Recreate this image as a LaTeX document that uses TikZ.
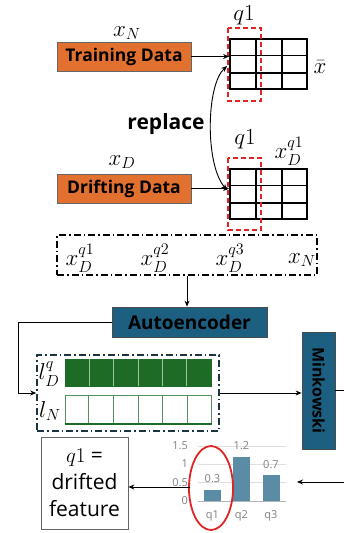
\RequirePackage{fix-cm}
\documentclass[tikz,border=0pt]{standalone}
\usepackage{fontspec}
\setmainfont{Open Sans}
\usepackage{amsmath}
\usetikzlibrary{arrows.meta,positioning,calc}
\definecolor{dataorange}{HTML}{E2702F}
\definecolor{aeblue}{HTML}{1C5F80}
\definecolor{latgreen}{HTML}{1E6B25}
\definecolor{latlight}{HTML}{9CC59C}
\definecolor{latdark}{HTML}{1C3440}
\definecolor{barblue}{HTML}{5A8CA6}
\definecolor{selred}{HTML}{E02424}

\begin{document}
\begin{tikzpicture}[x=1pt, y=-1pt, >={Stealth[length=6pt,width=5pt]},
  databox/.style={draw=black!60, line width=0.8pt, fill=dataorange, minimum width=134pt,
                  minimum height=29pt, inner sep=0pt, font=\bfseries\fontsize{17.5}{19}\selectfont},
  bluebox/.style={draw=black!70, line width=0.8pt, fill=aeblue, inner sep=0pt,
                  font=\bfseries\fontsize{19}{21}\selectfont},
  tablebox/.style={draw, line width=1.8pt, minimum width=77pt, minimum height=50pt, inner sep=0pt},
  selbox/.style={draw=selred, line width=1.8pt, dash pattern=on 5pt off 3pt},
  groupbox/.style={draw, line width=1.6pt, dash pattern=on 7pt off 3pt on 1.5pt off 3pt, inner sep=0pt},
  mlabel/.style={font=\fontsize{23}{27}\selectfont, inner sep=0pt},
  conn/.style={->, line width=0.9pt},
  axlabel/.style={text=gray, font=\fontsize{11}{12}\selectfont, inner sep=0pt}]
  \useasboundingbox (0,0) rectangle (344,533);

  % Input data
  \node[databox] (train) at (124,56.5) {Training Data};
  \node[mlabel]  (xN)    at (127,33)   {$x_N$};
  \node[databox] (drift) at (124,188.5) {Drifting Data};
  \node[mlabel]  (xD)    at (122,162)  {$x_D$};

  % Feature tables
  \node[tablebox] (tabN) at (268.5,64)  {};
  \node[tablebox] (tabD) at (268.5,194) {};
  \foreach \t in {tabN,tabD}
    \foreach \f in {0.337,0.67} {
      \draw[line width=1.8pt] ($(\t.north west)!\f!(\t.north east)$) -- ($(\t.south west)!\f!(\t.south east)$);
      \draw[line width=1.8pt] ($(\t.north west)!\f!(\t.south west)$) -- ($(\t.north east)!\f!(\t.south east)$);
    }
  \draw[selbox] (228,28)  rectangle (261,101);
  \draw[selbox] (228,158) rectangle (261,230);
  \node[mlabel] (qN)   at (244,15)  {$q1$};
  \node[mlabel] (qD)   at (245,139) {$q1$};
  \node[mlabel] (xbar) at (320,67)  {$\bar{x}$};
  \node[mlabel] (xDq)  at (289,151) {$x_D^{q1}$};

  \draw[conn] (train.east) -- (train.east -| tabN.west);
  \draw[conn] (drift.east) -- (drift.east -| tabD.west);
  \draw[<->, line width=0.9pt] ($(tabN.west)+(-2,2)$) .. controls (206,85) and (205,165) .. ($(tabD.west)+(-2,-4)$);
  \node[font=\bfseries\fontsize{21}{24}\selectfont] (rep) at (166,124) {replace};

  % Mixed samples
  \node[groupbox, minimum width=260pt, minimum height=40pt] (grp) at (187,255) {};
  \node[mlabel] (s1) at (80,258)  {$x_D^{q1}$};
  \node[mlabel] (s2) at (155,258) {$x_D^{q2}$};
  \node[mlabel] (s3) at (230,258) {$x_D^{q3}$};
  \node[mlabel] (s4) at (302,260) {$x_N$};

  \node[bluebox, minimum width=155pt, minimum height=30pt] (ae) at (189.5,322) {Autoencoder};
  \draw[conn] (grp.south) -- (grp.south |- ae.north);

  % Latent vectors
  \node[groupbox, draw=latdark, minimum width=182pt, minimum height=76pt] (lat) at (128,393) {};
  \node[fill=latgreen, draw=latgreen, minimum width=146pt, minimum height=27pt, inner sep=0pt] (rowD) at (138,372.5) {};
  \node[draw=latgreen!75, line width=1pt, minimum width=146pt, minimum height=28pt, inner sep=0pt] (rowN) at (138,409) {};
  \foreach \i in {1,...,5} {
    \draw[latlight, line width=1pt] ($(rowD.north west)!\i/6!(rowD.north east)$) -- ($(rowD.south west)!\i/6!(rowD.south east)$);
    \draw[latgreen!75, line width=1pt] ($(rowN.north west)!\i/6!(rowN.north east)$) -- ($(rowN.south west)!\i/6!(rowN.south east)$);
  }
  \draw[latgreen, line width=2pt] (rowN.south west) -- (rowN.south east);
  \node[mlabel] (lD) at (49,374) {$l_D^q$};
  \node[mlabel] (lN) at (50,411) {$l_N$};
  \draw[conn] (ae.west) -- ++(-93,0) |- (lat.west);

  % Distance
  \node[bluebox, minimum width=33pt, minimum height=117pt, font=\bfseries\fontsize{16}{18}\selectfont] (mink) at (318.5,390.5) {\rotatebox{-90}{Minkowski}};
  \draw[conn] (lat.east) -- (lat.east -| mink.west);
  \coordinate (outR) at (344,390);
  \draw[line width=0.9pt] (mink.east |- outR) -- (outR);
  \coordinate (inR) at (344,482);
  \coordinate (chartR) at (297,482);
  \draw[conn] (inR) -- (chartR);

  % Bar chart
  \foreach \v in {0.5,1,1.5}
    \draw[gray!25] (198,{501-36.7*\v}) -- (286,{501-36.7*\v});
  \draw[gray!60, line width=0.8pt] (198,501) -- (286,501);
  \foreach \v/\y in {0/501,0.5/483,1/464,1.5/446}
    \node[axlabel, anchor=east] at (188,\y) {\v};
  \foreach \x/\v/\n in {212.5/0.3/q1, 241.5/1.2/q2, 271/0.7/q3} {
    \fill[barblue] ({\x-8.5},501) rectangle ({\x+8.5},{501-36.7*\v});
    \node[axlabel] at (\x,{501-36.7*\v-11}) {\v};
    \node[axlabel] at (\x,516) {\n};
  }
  \draw[selred, line width=1.8pt] (211,488) ellipse [x radius=22, y radius=42];

  % Result
  \node[draw=black!60, line width=0.8pt, minimum width=87pt, minimum height=92pt, align=center,
        inner sep=0pt, font=\fontsize{21}{27}\selectfont] (res) at (84.5,483) {$q1$ =\\drifted\\feature};
  \coordinate (chartL) at (190,487);
  \draw[conn] (chartL) -- (chartL -| res.east);
\end{tikzpicture}
\end{document}
